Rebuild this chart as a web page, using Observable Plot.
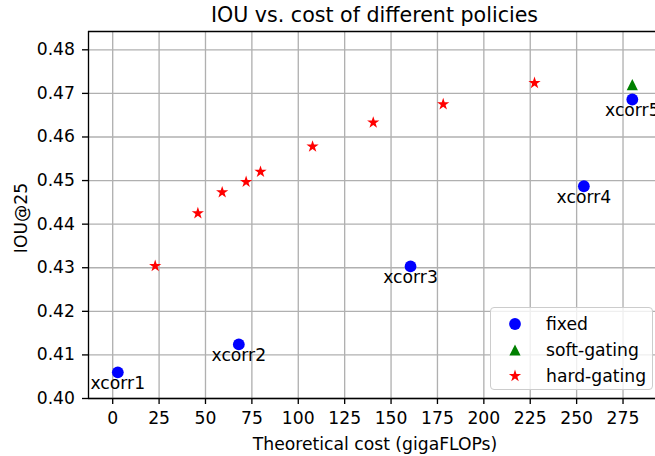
<!DOCTYPE html>
<html>
<head>
<meta charset="utf-8">
<script src="https://cdn.jsdelivr.net/npm/d3@7"></script>
<script src="https://cdn.jsdelivr.net/npm/@observablehq/plot@0.6"></script>
<style>
  body { margin: 0; background: #fff; font-family: "DejaVu Sans", sans-serif; }
  #wrap { position: relative; width: 655px; height: 456px; overflow: hidden; }
  #title { height: 28px; box-sizing: border-box; padding-top: 3px; line-height: 25px;
           padding-left: 88px; width: 661px; text-align: center; font-size: 20.6px; color: #000; white-space: nowrap; }
  #legend { position: absolute; left: 490px; top: 307px; width: 163px; height: 83px; box-sizing: border-box;
            border: 1px solid #cccccc; border-radius: 4px; background: rgba(255,255,255,0.8); }
  .row { position: absolute; left: 0; height: 26px; width: 160px; font-size: 17.2px; color: #000; }
  .row svg { position: absolute; left: 12px; top: 0; }
  .row span { position: absolute; left: 55px; top: 2px; line-height: 22px; }
</style>
</head>
<body>
<div id="wrap">
  <div id="title"></div>
  <div id="chart"></div>
  <div id="legend"></div>
</div>
<script>
// ---- data ----
const title = "IOU vs. cost of different policies";
const xLabel = "Theoretical cost (gigaFLOPs)";
const yLabel = "IOU@25";
const seriesNames = ["fixed", "soft-gating", "hard-gating"];

const fixedLabels = ["xcorr1", "xcorr2", "xcorr3", "xcorr4", "xcorr5"];
const fixedCost   = [2.75, 67.96, 160.5, 253.9, 280.0];
const fixedIou    = [0.4060, 0.4124, 0.4303, 0.4487, 0.4686];

const softCost = [280.0];
const softIou  = [0.4720];

const hardCost = [22.9, 45.9, 59.0, 71.9, 79.65, 107.7, 140.4, 178.1, 227.3];
const hardIou  = [0.4304, 0.4425, 0.4473, 0.4497, 0.4520, 0.4578, 0.4633, 0.4675, 0.4724];

const xTicks = [0, 25, 50, 75, 100, 125, 150, 175, 200, 225, 250, 275];
const yTicks = [0.40, 0.41, 0.42, 0.43, 0.44, 0.45, 0.46, 0.47, 0.48];
const xDomain = [-13.04, 292.5];
const yDomain = [0.40, 0.4842];

// ---- tables ----
const fixed = fixedCost.map((c, i) => ({cost: c, iou: fixedIou[i], label: fixedLabels[i]}));
const soft  = softCost.map((c, i) => ({cost: c, iou: softIou[i]}));
const hard  = hardCost.map((c, i) => ({cost: c, iou: hardIou[i]}));

document.getElementById("title").textContent = title;

// matplotlib-style "^" marker: width equals height, centred on its bounding box
const mplTriangle = {
  draw(context, size) {
    const h = Math.sqrt(size / Math.PI);
    context.moveTo(0, -h);
    context.lineTo(h, h);
    context.lineTo(-h, h);
    context.closePath();
  }
};

const grid = "#b0b0b0";
const fs = 17.2;
const rCircle = 5.9, rTri = 5.6, rStar = 3.85;

const chart = Plot.plot({
  width: 655,
  height: 428,
  marginTop: 3,
  marginBottom: 58,
  marginLeft: 88,
  marginRight: 0,
  style: {fontFamily: "DejaVu Sans, sans-serif", fontSize: fs + "px", color: "#000", background: "transparent", overflow: "hidden"},
  x: {domain: xDomain},
  y: {domain: yDomain},
  marks: [
    Plot.gridX(xTicks, {stroke: grid, strokeOpacity: 1, strokeWidth: 1.33}),
    Plot.gridY(yTicks, {stroke: grid, strokeOpacity: 1, strokeWidth: 1.33}),
    Plot.ruleX([xDomain[0]], {stroke: "#000", strokeWidth: 1.33}),
    Plot.ruleY([yDomain[0]], {stroke: "#000", strokeWidth: 1.33}),
    Plot.ruleY([yDomain[1]], {stroke: "#000", strokeWidth: 1.33}),
    Plot.axisX(xTicks, {tickSize: 6, tickPadding: 7, strokeWidth: 1.33, fontSize: fs, label: null, tickFormat: d3.format("d")}),
    Plot.axisY(yTicks, {tickSize: 6, tickPadding: 7.5, strokeWidth: 1.33, fontSize: fs, label: null, tickFormat: d3.format(".2f")}),
    Plot.text([xLabel], {frameAnchor: "bottom", dx: 3, dy: 46, lineAnchor: "middle", textAnchor: "middle", fontSize: fs, fill: "#000"}),
    Plot.text([yLabel], {frameAnchor: "left", dx: -67, dy: 3, rotate: -90, lineAnchor: "middle", textAnchor: "middle", fontSize: fs, fill: "#000"}),
    Plot.dot(fixed, {x: "cost", y: "iou", r: rCircle, symbol: "circle", fill: "#0000ff", stroke: "none"}),
    Plot.dot(soft, {x: "cost", y: "iou", r: rTri, symbol: mplTriangle, fill: "#008000", stroke: "none"}),
    Plot.dot(hard, {x: "cost", y: "iou", r: rStar, symbol: "star", fill: "#ff0000", stroke: "none"}),
    Plot.text(fixed, {x: "cost", y: "iou", text: "label", dy: 11, lineAnchor: "middle", textAnchor: "middle", fontSize: fs, fill: "#000"})
  ]
});
document.getElementById("chart").appendChild(chart);

// ---- legend ----
const legendSymbols = [
  {type: d3.symbolCircle, size: Math.PI * rCircle * rCircle, color: "#0000ff"},
  {type: mplTriangle, size: Math.PI * rTri * rTri, color: "#008000"},
  {type: d3.symbolStar, size: Math.PI * rStar * rStar, color: "#ff0000"}
];
const legend = document.getElementById("legend");
seriesNames.forEach((name, i) => {
  const row = document.createElement("div");
  row.className = "row";
  row.style.top = (3 + i * 25.8) + "px";
  const s = legendSymbols[i];
  const path = d3.symbol().type(s.type).size(s.size)();
  row.innerHTML = `<svg width="24" height="26"><path transform="translate(12,13)" d="${path}" fill="${s.color}"/></svg><span>${name}</span>`;
  legend.appendChild(row);
});
</script>
</body>
</html>
